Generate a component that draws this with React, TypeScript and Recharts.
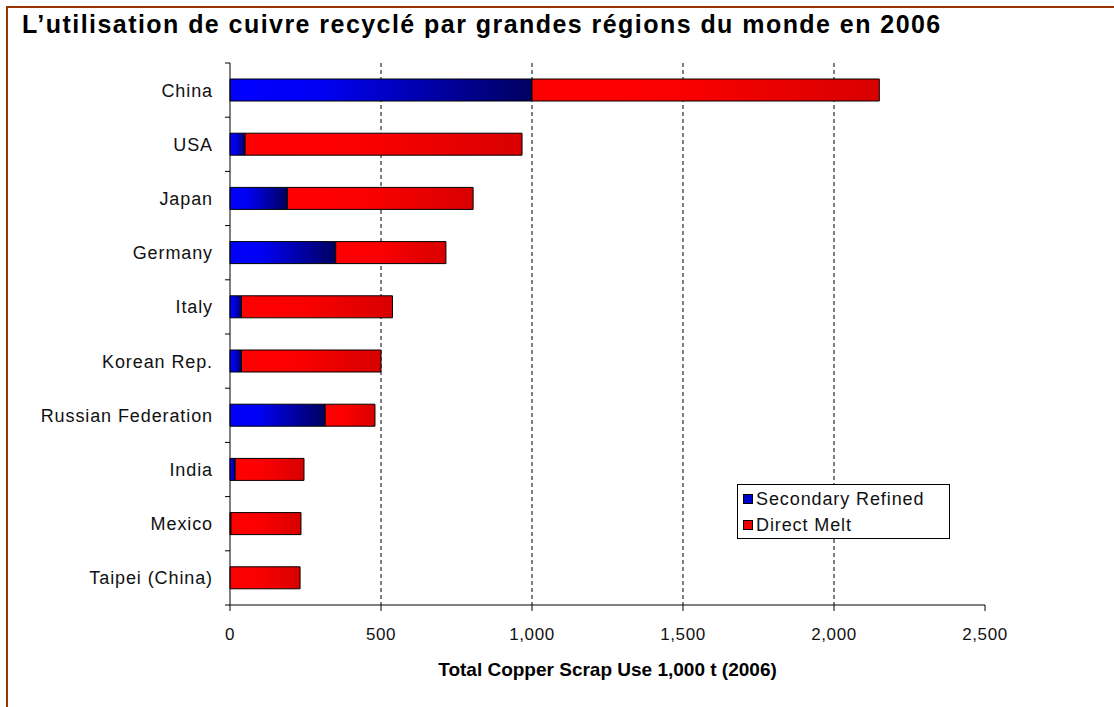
import React from 'react';
import { BarChart, Bar, XAxis, YAxis, CartesianGrid, Legend } from 'recharts';

const categories = [
  'China',
  'USA',
  'Japan',
  'Germany',
  'Italy',
  'Korean Rep.',
  'Russian Federation',
  'India',
  'Mexico',
  'Taipei (China)',
];
const secondaryRefined = [1000, 50, 190, 350, 38, 38, 315, 17, 3, 0];
const directMelt = [1150, 917, 615, 365, 500, 462, 165, 228, 232, 232];
const xTicks = [0, 500, 1000, 1500, 2000, 2500];
const gridTicks = [500, 1000, 1500, 2000];

const data = categories.map((name, i) => ({
  name,
  secondary: secondaryRefined[i],
  direct: directMelt[i],
}));

const FONT = '"Liberation Sans", Arial, sans-serif';

const CategoryTick = (props: any) => {
  const { x, y, payload, index, visibleTicksCount } = props;
  const half = payload.offset ?? 27;
  return (
    <g>
      <line x1={x + 12} x2={x + 17} y1={y - half} y2={y - half} stroke="#000" />
      {index === visibleTicksCount - 1 && (
        <line x1={x + 12} x2={x + 17} y1={y + half} y2={y + half} stroke="#000" />
      )}
      <text
        x={x}
        y={y}
        dy="0.36em"
        textAnchor="end"
        fill="#111"
        style={{ fontFamily: FONT, fontSize: 18, letterSpacing: 0.9 }}
      >
        {payload.value}
      </text>
    </g>
  );
};

const ValueTick = (props: any) => {
  const { x, y, payload } = props;
  return (
    <text
      x={x}
      y={y}
      dy="0.71em"
      textAnchor="middle"
      fill="#111"
      style={{ fontFamily: FONT, fontSize: 17, letterSpacing: 0.6 }}
    >
      {payload.value.toLocaleString('en-US')}
    </text>
  );
};

const LegendBox = () => (
  <div
    style={{
      boxSizing: 'border-box',
      width: 213,
      height: 55,
      border: '1px solid #000',
      background: '#fff',
      padding: '1px 0 0 5px',
      fontFamily: FONT,
      fontSize: 18,
      letterSpacing: 0.9,
      color: '#111',
      lineHeight: '26px',
    }}
  >
    {[
      { label: 'Secondary Refined', color: '#0000cc' },
      { label: 'Direct Melt', color: '#ee0000' },
    ].map((item) => (
      <div key={item.label} style={{ display: 'flex', alignItems: 'center' }}>
        <span
          style={{
            display: 'inline-block',
            width: 8,
            height: 8,
            border: '1px solid #000',
            background: item.color,
            marginRight: 3,
          }}
        />
        {item.label}
      </div>
    ))}
  </div>
);

export default function App() {
  return (
    <div
      style={{
        position: 'absolute',
        left: 0,
        top: 0,
        width: 1114,
        height: 707,
        overflow: 'hidden',
        background: '#fff',
      }}
    >
      <div
        style={{
          position: 'absolute',
          left: 6,
          top: 6,
          width: 1200,
          height: 800,
          borderTop: '2px solid #993300',
          borderLeft: '2px solid #993300',
        }}
      />
      <div
        style={{
          position: 'absolute',
          left: 22,
          top: 12,
          fontFamily: FONT,
          fontWeight: 'bold',
          fontSize: 25,
          lineHeight: '25px',
          letterSpacing: 1.45,
          color: '#000',
          whiteSpace: 'nowrap',
        }}
      >
        L’utilisation de cuivre recyclé par grandes régions du monde en 2006
      </div>
      <div style={{ position: 'absolute', left: 0, top: 0 }}>
        <BarChart
          width={1114}
          height={707}
          data={data}
          layout="vertical"
          margin={{ top: 63, right: 129, bottom: 22, left: 30 }}
        >
          <defs>
            <linearGradient id="blueGrad" x1="0" y1="0" x2="1" y2="0">
              <stop offset="0" stopColor="#0000ff" />
              <stop offset="0.3" stopColor="#0000f4" />
              <stop offset="1" stopColor="#000060" />
            </linearGradient>
            <linearGradient id="redGrad" x1="0" y1="0" x2="1" y2="0">
              <stop offset="0" stopColor="#ff0000" />
              <stop offset="0.4" stopColor="#fb0000" />
              <stop offset="1" stopColor="#d80000" />
            </linearGradient>
          </defs>
          <CartesianGrid
            horizontal={false}
            verticalValues={gridTicks}
            stroke="#000"
            strokeDasharray="4 3"
          />
          <XAxis
            xAxisId="top"
            orientation="top"
            type="number"
            domain={[0, 2500]}
            allowDataOverflow
            tick={false}
            tickLine={false}
            height={0}
            axisLine={{ stroke: '#a0a0a0' }}
          />
          <XAxis
            type="number"
            domain={[0, 2500]}
            ticks={xTicks}
            interval={0}
            height={80}
            tickSize={6}
            tickMargin={17}
            axisLine={{ stroke: '#000' }}
            tickLine={{ stroke: '#000' }}
            tick={<ValueTick />}
            label={{
              value: 'Total Copper Scrap Use 1,000 t (2006)',
              position: 'insideBottom',
              offset: 9,
              style: {
                fontFamily: FONT,
                fontWeight: 'bold',
                fontSize: 19,
                fill: '#000',
              },
            }}
          />
          <YAxis
            type="category"
            dataKey="name"
            width={200}
            tickSize={0}
            tickMargin={17}
            tickLine={false}
            interval={0}
            axisLine={{ stroke: '#000' }}
            tick={<CategoryTick />}
          />
          <Legend
            layout="vertical"
            align="center"
            verticalAlign="middle"
            wrapperStyle={{ left: 737, top: 484, width: 'auto', height: 'auto' }}
            content={() => <LegendBox />}
          />
          <Bar
            dataKey="secondary"
            name="Secondary Refined"
            stackId="a"
            barSize={22}
            fill="url(#blueGrad)"
            stroke="#000"
            strokeWidth={1}
            isAnimationActive={false}
          />
          <Bar
            dataKey="direct"
            name="Direct Melt"
            stackId="a"
            barSize={22}
            fill="url(#redGrad)"
            stroke="#000"
            strokeWidth={1}
            isAnimationActive={false}
          />
        </BarChart>
      </div>
    </div>
  );
}
